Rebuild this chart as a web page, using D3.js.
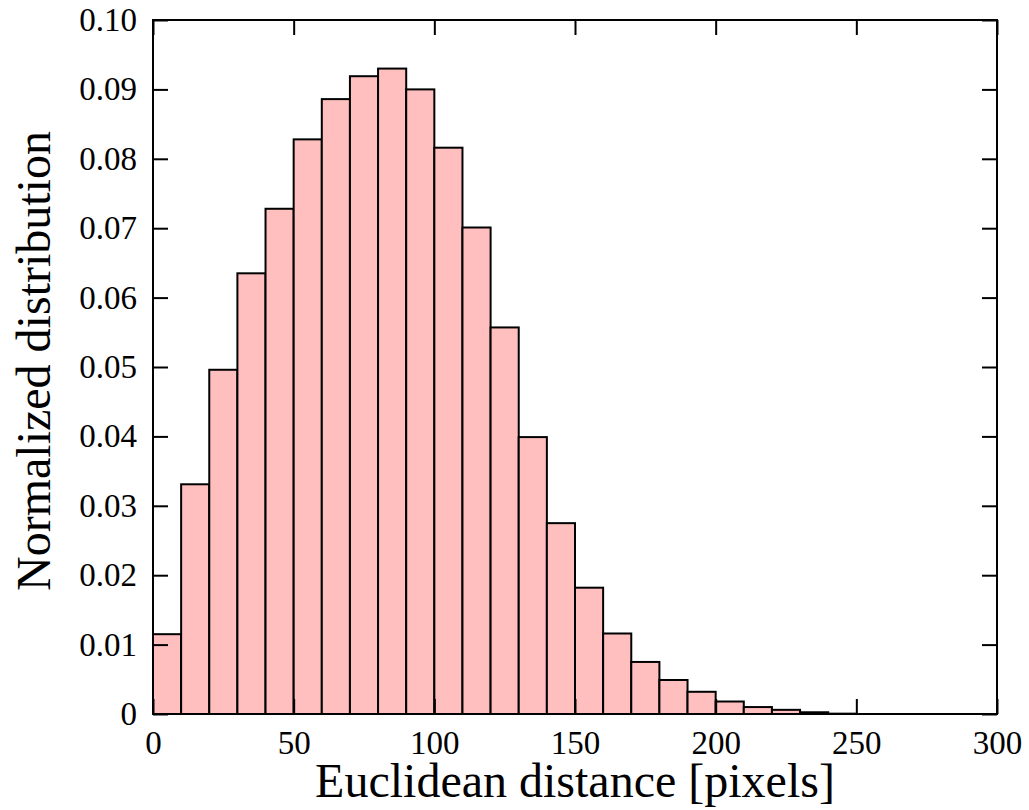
<!DOCTYPE html>
<html>
<head>
<meta charset="utf-8">
<script src="https://cdn.jsdelivr.net/npm/d3@7"></script>
</head>
<body style="margin:0; background:#fff">
<svg></svg>
<script>
// bin edges (left) and normalized counts, width 10 px
const binStarts = [0, 10, 20, 30, 40, 50, 60, 70, 80, 90, 100, 110, 120, 130, 140, 150, 160, 170, 180, 190, 200, 210, 220, 230, 240]
const binValues = [0.0115, 0.0331, 0.0496, 0.0635, 0.0728, 0.0828, 0.0886, 0.0919, 0.0930, 0.0900, 0.0816, 0.0701, 0.0557, 0.0399, 0.0275, 0.0182, 0.0116, 0.0075, 0.0049, 0.0032, 0.0018, 0.0010, 0.0006, 0.00025, 0.00005]
const binWidth = 10
const xTicks = [0, 50, 100, 150, 200, 250, 300]
const yTicks = [0, 0.01, 0.02, 0.03, 0.04, 0.05, 0.06, 0.07, 0.08, 0.09, 0.10]

const WIDTH = 1029
const HEIGHT = 810
const margin = {top: 20, right: 32, bottom: 96, left: 153}
const TICK = 15
const FONT = 'Liberation Serif'

const bins = binStarts.map((s, i) => ({x0: s, x1: s + binWidth, value: binValues[i]}))

const x = d3.scaleLinear()
  .domain([0, 300])
  .range([margin.left, WIDTH - margin.right])
const y = d3.scaleLinear()
  .domain([0, 0.10])
  .range([HEIGHT - margin.bottom, margin.top])

const svg = d3.select('svg')
  .attr('width', WIDTH)
  .attr('height', HEIGHT)

const yFmt = d => d === 0 ? '0' : d3.format('.2f')(d)

// bars
svg.append('g')
  .selectAll('rect')
  .data(bins)
  .enter().append('rect')
    .attr('x', d => x(d.x0))
    .attr('y', d => y(d.value))
    .attr('width', d => x(d.x1) - x(d.x0))
    .attr('height', d => y(0) - y(d.value))
    .attr('fill', '#ffbfbf')
    .attr('stroke', '#000')
    .attr('stroke-width', 2)

// axes, ticks pointing inward on all four sides
function styleAxis(g) {
  g.attr('font-family', FONT).attr('font-size', 33)
  g.select('.domain').remove()
  g.selectAll('.tick line').attr('stroke', '#000').attr('stroke-width', 2)
  g.selectAll('.tick text').attr('fill', '#000')
}

svg.append('g')
  .attr('transform', `translate(0,${y(0)})`)
  .call(d3.axisBottom(x).tickValues(xTicks).tickSizeInner(-TICK).tickSizeOuter(0).tickPadding(17))
  .call(styleAxis)

svg.append('g')
  .attr('transform', `translate(0,${y(0.10)})`)
  .call(d3.axisTop(x).tickValues(xTicks).tickSizeInner(-TICK).tickSizeOuter(0).tickFormat(''))
  .call(styleAxis)

svg.append('g')
  .attr('transform', `translate(${x(0)},0)`)
  .call(d3.axisLeft(y).tickValues(yTicks).tickSizeInner(-TICK).tickSizeOuter(0).tickPadding(16).tickFormat(yFmt))
  .call(styleAxis)

svg.append('g')
  .attr('transform', `translate(${x(300)},0)`)
  .call(d3.axisRight(y).tickValues(yTicks).tickSizeInner(-TICK).tickSizeOuter(0).tickFormat(''))
  .call(styleAxis)

// frame
svg.append('rect')
  .attr('x', x(0))
  .attr('y', y(0.10))
  .attr('width', x(300) - x(0))
  .attr('height', y(0) - y(0.10))
  .attr('fill', 'none')
  .attr('stroke', '#000')
  .attr('stroke-width', 2)

// titles
svg.append('text')
  .attr('x', 575)
  .attr('y', 797)
  .attr('text-anchor', 'middle')
  .attr('font-family', FONT)
  .attr('font-size', 48)
  .text('Euclidean distance [pixels]')

svg.append('text')
  .attr('transform', `translate(50,361) rotate(-90)`)
  .attr('text-anchor', 'middle')
  .attr('font-family', FONT)
  .attr('font-size', 48)
  .text('Normalized distribution')
</script>
</body>
</html>
